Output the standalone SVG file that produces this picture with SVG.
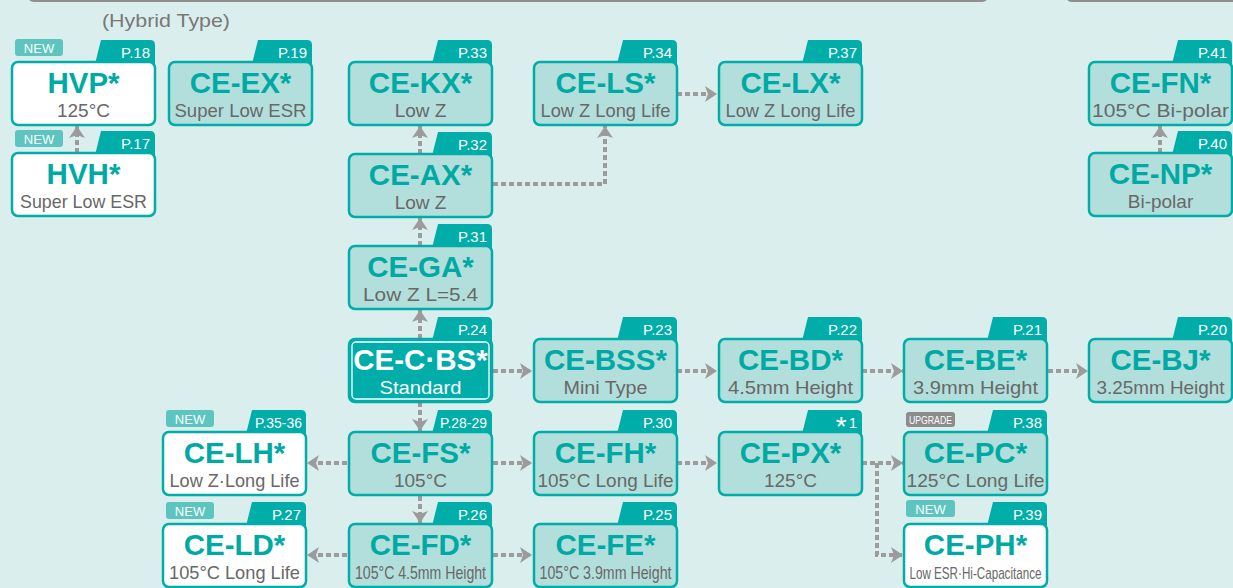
<svg xmlns="http://www.w3.org/2000/svg" width="1233" height="588" viewBox="0 0 1233 588">
<style>
.bg{fill:#daefed}
.box{fill:#b2dfdb;stroke:#00ada8;stroke-width:2.5}
.wbox{fill:#ffffff;stroke:#00ada8;stroke-width:2.5}
.tbox{fill:#00ada8;stroke:#00ada8;stroke-width:2.5}
.tab{fill:#00ada8}
.ttl{font-family:"Liberation Sans",Arial,sans-serif;font-weight:bold;font-size:29.5px;fill:#00aaa4;text-anchor:middle}
.sub{font-family:"Liberation Sans",Arial,sans-serif;font-size:19px;fill:#686868;text-anchor:middle}
.pg{font-family:"Liberation Sans",Arial,sans-serif;font-size:15px;fill:#ffffff;text-anchor:end}
.new{fill:#5cc5c0}
.upg{fill:#8c8c8c}
.bt{font-family:"Liberation Sans",Arial,sans-serif;font-size:13px;fill:#ffffff;text-anchor:middle}
.con{fill:none;stroke:#9b9b9b;stroke-width:4;stroke-dasharray:5 3}
</style>
<defs>
<marker id="ah" markerUnits="userSpaceOnUse" markerWidth="14" markerHeight="16" refX="12" refY="8" orient="auto">
<path d="M0,0 L12,8 L0,16 L3,8 Z" fill="#9b9b9b"/>
</marker>
</defs>
<rect class="bg" x="0" y="0" width="1233" height="588"/>
<rect x="28" y="-20" width="960" height="21" rx="6" fill="#daefed" stroke="#8f8f8f" stroke-width="2"/>
<rect x="1066" y="-20" width="180" height="21" rx="6" fill="#daefed" stroke="#8f8f8f" stroke-width="2"/>
<text x="102" y="27" font-family="'Liberation Sans',Arial,sans-serif" font-size="19" fill="#777777" textLength="128" lengthAdjust="spacingAndGlyphs">(Hybrid Type)</text>

<g id="connectors">
<path class="con" d="M77,153 L77,126" marker-end="url(#ah)"/>
<path class="con" d="M1160,153 L1160,126" marker-end="url(#ah)"/>
<path class="con" d="M420,154 L420,126" marker-end="url(#ah)"/>
<path class="con" d="M493,184 L605,184 L605,126" marker-end="url(#ah)"/>
<path class="con" d="M677,94 L717,94" marker-end="url(#ah)"/>
<path class="con" d="M420,246 L420,218" marker-end="url(#ah)"/>
<path class="con" d="M420,339 L420,310" marker-end="url(#ah)"/>
<path class="con" d="M493,371 L532,371" marker-end="url(#ah)"/>
<path class="con" d="M677,371 L717,371" marker-end="url(#ah)"/>
<path class="con" d="M862,371 L903,371" marker-end="url(#ah)"/>
<path class="con" d="M1048,371 L1088,371" marker-end="url(#ah)"/>
<path class="con" d="M420,402 L420,431" marker-end="url(#ah)"/>
<path class="con" d="M493,463 L532,463" marker-end="url(#ah)"/>
<path class="con" d="M347,463 L307,463" marker-end="url(#ah)"/>
<path class="con" d="M420,496 L420,523" marker-end="url(#ah)"/>
<path class="con" d="M493,555 L532,555" marker-end="url(#ah)"/>
<path class="con" d="M347,555 L307,555" marker-end="url(#ah)"/>
<path class="con" d="M677,463 L717,463" marker-end="url(#ah)"/>
<path class="con" d="M862,463 L903,463" marker-end="url(#ah)"/>
<path class="con" d="M877,463 L877,555 L903,555" marker-end="url(#ah)"/>
</g>

<g id="HVP">
<rect class="new" x="15" y="39" width="48" height="17" rx="3"/><text class="bt" x="39" y="53">NEW</text>
<path class="tab" d="M95,64 L101,40 L150,40 Q155,40 155,45 L155,64 Z"/>
<rect class="wbox" x="12" y="62" width="143" height="63" rx="6"/>
<text class="pg" x="150" y="58">P.18</text>
<text class="ttl" x="83.5" y="93">HVP*</text>
<text class="sub" x="83.5" y="117" textLength="53" lengthAdjust="spacingAndGlyphs">125°C</text>
</g>
<g id="HVH">
<rect class="new" x="15" y="130" width="48" height="17" rx="3"/><text class="bt" x="39" y="144">NEW</text>
<path class="tab" d="M95,155 L101,131 L150,131 Q155,131 155,136 L155,155 Z"/>
<rect class="wbox" x="12" y="153" width="143" height="63" rx="6"/>
<text class="pg" x="150" y="149">P.17</text>
<text class="ttl" x="83.5" y="184">HVH*</text>
<text class="sub" x="83.5" y="208" textLength="127" lengthAdjust="spacingAndGlyphs">Super Low ESR</text>
</g>
<g id="CE-EX">
<path class="tab" d="M252,64 L258,40 L307,40 Q312,40 312,45 L312,64 Z"/>
<rect class="box" x="169" y="62" width="143" height="63" rx="6"/>
<text class="pg" x="307" y="58">P.19</text>
<text class="ttl" x="240.5" y="93">CE-EX*</text>
<text class="sub" x="240.5" y="117" textLength="132" lengthAdjust="spacingAndGlyphs">Super Low ESR</text>
</g>
<g id="CE-KX">
<path class="tab" d="M432,64 L438,40 L487,40 Q492,40 492,45 L492,64 Z"/>
<rect class="box" x="349" y="62" width="143" height="63" rx="6"/>
<text class="pg" x="487" y="58">P.33</text>
<text class="ttl" x="420.5" y="93">CE-KX*</text>
<text class="sub" x="420.5" y="117">Low Z</text>
</g>
<g id="CE-AX">
<path class="tab" d="M432,156 L438,132 L487,132 Q492,132 492,137 L492,156 Z"/>
<rect class="box" x="349" y="154" width="143" height="63" rx="6"/>
<text class="pg" x="487" y="150">P.32</text>
<text class="ttl" x="420.5" y="185">CE-AX*</text>
<text class="sub" x="420.5" y="209">Low Z</text>
</g>
<g id="CE-GA">
<path class="tab" d="M432,248 L438,224 L487,224 Q492,224 492,229 L492,248 Z"/>
<rect class="box" x="349" y="246" width="143" height="63" rx="6"/>
<text class="pg" x="487" y="242">P.31</text>
<text class="ttl" x="420.5" y="277">CE-GA*</text>
<text class="sub" x="420.5" y="301" textLength="115" lengthAdjust="spacingAndGlyphs">Low Z L=5.4</text>
</g>
<g id="CE-CBS">
<path class="tab" d="M432,341 L438,317 L487,317 Q492,317 492,322 L492,341 Z"/>
<rect class="tbox" x="349" y="339" width="143" height="63" rx="6"/>
<rect x="352" y="342" width="137" height="57" rx="4" fill="none" stroke="#ffffff" stroke-width="1.3"/>
<text class="pg" x="487" y="335">P.24</text>
<text class="ttl" x="420.5" y="370" style="fill:#ffffff">CE-C·BS*</text>
<text class="sub" x="420.5" y="394" style="fill:#ffffff" textLength="82" lengthAdjust="spacingAndGlyphs">Standard</text>
</g>
<g id="CE-FS">
<path class="tab" d="M432,434 L438,410 L487,410 Q492,410 492,415 L492,434 Z"/>
<rect class="box" x="349" y="432" width="143" height="63" rx="6"/>
<text class="pg" x="487" y="428" textLength="47" lengthAdjust="spacingAndGlyphs">P.28-29</text>
<text class="ttl" x="420.5" y="463">CE-FS*</text>
<text class="sub" x="420.5" y="487">105°C</text>
</g>
<g id="CE-FD">
<path class="tab" d="M432,526 L438,502 L487,502 Q492,502 492,507 L492,526 Z"/>
<rect class="box" x="349" y="524" width="143" height="63" rx="6"/>
<text class="pg" x="487" y="520">P.26</text>
<text class="ttl" x="420.5" y="555">CE-FD*</text>
<text class="sub" x="420.5" y="579" textLength="131" lengthAdjust="spacingAndGlyphs">105°C 4.5mm Height</text>
</g>
<g id="CE-LS">
<path class="tab" d="M617,64 L623,40 L672,40 Q677,40 677,45 L677,64 Z"/>
<rect class="box" x="534" y="62" width="143" height="63" rx="6"/>
<text class="pg" x="672" y="58">P.34</text>
<text class="ttl" x="605.5" y="93">CE-LS*</text>
<text class="sub" x="605.5" y="117" textLength="130" lengthAdjust="spacingAndGlyphs">Low Z Long Life</text>
</g>
<g id="CE-LX">
<path class="tab" d="M802,64 L808,40 L857,40 Q862,40 862,45 L862,64 Z"/>
<rect class="box" x="719" y="62" width="143" height="63" rx="6"/>
<text class="pg" x="857" y="58">P.37</text>
<text class="ttl" x="790.5" y="93">CE-LX*</text>
<text class="sub" x="790.5" y="117" textLength="130" lengthAdjust="spacingAndGlyphs">Low Z Long Life</text>
</g>
<g id="CE-BSS">
<path class="tab" d="M617,341 L623,317 L672,317 Q677,317 677,322 L677,341 Z"/>
<rect class="box" x="534" y="339" width="143" height="63" rx="6"/>
<text class="pg" x="672" y="335">P.23</text>
<text class="ttl" x="605.5" y="370">CE-BSS*</text>
<text class="sub" x="605.5" y="394" textLength="84" lengthAdjust="spacingAndGlyphs">Mini Type</text>
</g>
<g id="CE-BD">
<path class="tab" d="M802,341 L808,317 L857,317 Q862,317 862,322 L862,341 Z"/>
<rect class="box" x="719" y="339" width="143" height="63" rx="6"/>
<text class="pg" x="857" y="335">P.22</text>
<text class="ttl" x="790.5" y="370">CE-BD*</text>
<text class="sub" x="790.5" y="394" textLength="125" lengthAdjust="spacingAndGlyphs">4.5mm Height</text>
</g>
<g id="CE-BE">
<path class="tab" d="M987,341 L993,317 L1042,317 Q1047,317 1047,322 L1047,341 Z"/>
<rect class="box" x="904" y="339" width="143" height="63" rx="6"/>
<text class="pg" x="1042" y="335">P.21</text>
<text class="ttl" x="975.5" y="370">CE-BE*</text>
<text class="sub" x="975.5" y="394" textLength="125" lengthAdjust="spacingAndGlyphs">3.9mm Height</text>
</g>
<g id="CE-BJ">
<path class="tab" d="M1172,341 L1178,317 L1227,317 Q1232,317 1232,322 L1232,341 Z"/>
<rect class="box" x="1089" y="339" width="143" height="63" rx="6"/>
<text class="pg" x="1227" y="335">P.20</text>
<text class="ttl" x="1160.5" y="370">CE-BJ*</text>
<text class="sub" x="1160.5" y="394" textLength="128" lengthAdjust="spacingAndGlyphs">3.25mm Height</text>
</g>
<g id="CE-FH">
<path class="tab" d="M617,434 L623,410 L672,410 Q677,410 677,415 L677,434 Z"/>
<rect class="box" x="534" y="432" width="143" height="63" rx="6"/>
<text class="pg" x="672" y="428">P.30</text>
<text class="ttl" x="605.5" y="463">CE-FH*</text>
<text class="sub" x="605.5" y="487" textLength="136" lengthAdjust="spacingAndGlyphs">105°C Long Life</text>
</g>
<g id="CE-FE">
<path class="tab" d="M617,526 L623,502 L672,502 Q677,502 677,507 L677,526 Z"/>
<rect class="box" x="534" y="524" width="143" height="63" rx="6"/>
<text class="pg" x="672" y="520">P.25</text>
<text class="ttl" x="605.5" y="555">CE-FE*</text>
<text class="sub" x="605.5" y="579" textLength="132" lengthAdjust="spacingAndGlyphs">105°C 3.9mm Height</text>
</g>
<g id="CE-PX">
<path class="tab" d="M802,434 L808,410 L857,410 Q862,410 862,415 L862,434 Z"/>
<rect class="box" x="719" y="432" width="143" height="63" rx="6"/>
<text class="pg" x="857" y="428"><tspan font-size="28" dy="8">*</tspan><tspan dy="-8" dx="2">1</tspan></text>
<text class="ttl" x="790.5" y="463">CE-PX*</text>
<text class="sub" x="790.5" y="487">125°C</text>
</g>
<g id="CE-PC">
<rect class="upg" x="906" y="412" width="49" height="15" rx="3"/><text class="bt" x="930.5" y="424" style="font-size:10px" textLength="43" lengthAdjust="spacingAndGlyphs">UPGRADE</text>
<path class="tab" d="M987,434 L993,410 L1042,410 Q1047,410 1047,415 L1047,434 Z"/>
<rect class="box" x="904" y="432" width="143" height="63" rx="6"/>
<text class="pg" x="1042" y="428">P.38</text>
<text class="ttl" x="975.5" y="463">CE-PC*</text>
<text class="sub" x="975.5" y="487" textLength="138" lengthAdjust="spacingAndGlyphs">125°C Long Life</text>
</g>
<g id="CE-PH">
<rect class="new" x="906" y="500" width="49" height="17" rx="3"/><text class="bt" x="930.5" y="514">NEW</text>
<path class="tab" d="M987,526 L993,502 L1042,502 Q1047,502 1047,507 L1047,526 Z"/>
<rect class="wbox" x="904" y="524" width="143" height="63" rx="6"/>
<text class="pg" x="1042" y="520">P.39</text>
<text class="ttl" x="975.5" y="555">CE-PH*</text>
<text class="sub" x="975.5" y="579" style="font-size:17px" textLength="132" lengthAdjust="spacingAndGlyphs">Low ESR·Hi-Capacitance</text>
</g>
<g id="CE-LH">
<rect class="new" x="166" y="410" width="48" height="17" rx="3"/><text class="bt" x="190" y="424">NEW</text>
<path class="tab" d="M246,434 L252,410 L301,410 Q306,410 306,415 L306,434 Z"/>
<rect class="wbox" x="163" y="432" width="143" height="63" rx="6"/>
<text class="pg" x="302" y="428" textLength="47" lengthAdjust="spacingAndGlyphs">P.35-36</text>
<text class="ttl" x="234.5" y="463">CE-LH*</text>
<text class="sub" x="234.5" y="487" textLength="130" lengthAdjust="spacingAndGlyphs">Low Z·Long Life</text>
</g>
<g id="CE-LD">
<rect class="new" x="166" y="502" width="48" height="17" rx="3"/><text class="bt" x="190" y="516">NEW</text>
<path class="tab" d="M246,526 L252,502 L301,502 Q306,502 306,507 L306,526 Z"/>
<rect class="wbox" x="163" y="524" width="143" height="63" rx="6"/>
<text class="pg" x="301" y="520">P.27</text>
<text class="ttl" x="234.5" y="555">CE-LD*</text>
<text class="sub" x="234.5" y="579" textLength="131" lengthAdjust="spacingAndGlyphs">105°C Long Life</text>
</g>
<g id="CE-FN">
<path class="tab" d="M1172,64 L1178,40 L1227,40 Q1232,40 1232,45 L1232,64 Z"/>
<rect class="box" x="1089" y="62" width="143" height="63" rx="6"/>
<text class="pg" x="1227" y="58">P.41</text>
<text class="ttl" x="1160.5" y="93">CE-FN*</text>
<text class="sub" x="1160.5" y="117" textLength="137" lengthAdjust="spacingAndGlyphs">105°C Bi-polar</text>
</g>
<g id="CE-NP">
<path class="tab" d="M1172,155 L1178,131 L1227,131 Q1232,131 1232,136 L1232,155 Z"/>
<rect class="box" x="1089" y="153" width="143" height="63" rx="6"/>
<text class="pg" x="1227" y="149">P.40</text>
<text class="ttl" x="1160.5" y="184">CE-NP*</text>
<text class="sub" x="1160.5" y="208">Bi-polar</text>
</g>
</svg>
